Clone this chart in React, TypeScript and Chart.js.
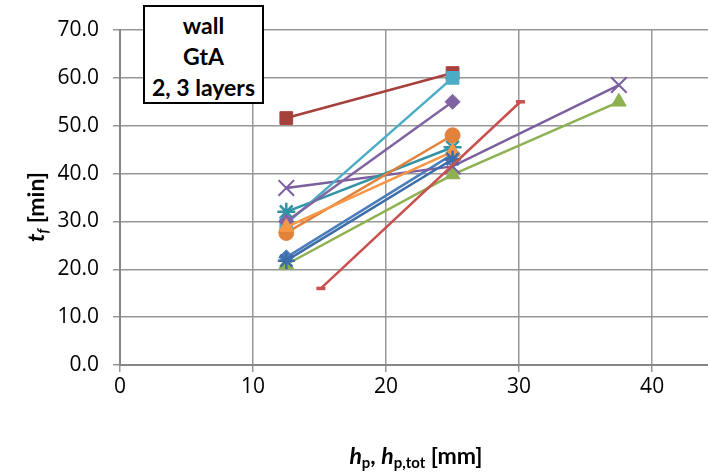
import React, { useEffect, useRef } from "react";
import { Chart, registerables } from "chart.js";

Chart.register(...registerables);

// ---- data ----
const xTickValues = [0, 10, 20, 30, 40];
const yTickValues = [0, 10, 20, 30, 40, 50, 60, 70];

const hpTwo = [12.5, 25];
const hpThree = [12.5, 25, 37.5];
const hpRed = [15.1, 30.1];

const tBlueDiamond = [22.5, 44.0];
const tDarkRedSquare = [51.6, 61.0];
const tGreenTriangle = [21.0, 39.8, 55.0];
const tPurpleCross = [37.0, 41.5, 58.5];
const tTealStar = [32.0, 45.5];
const tOrangeCircle = [27.6, 48.0];
const tAquaSquare = [29.5, 60.0];
const tPurpleDiamond = [30.0, 55.0];
const tOrangeTriangle = [28.8, 44.6];
const tBlueStar = [21.8, 43.0];
const tRedDash = [16.0, 55.0];

const boxLines = ["wall", "GtA", "2, 3 layers"];

const FONT = "Lato, 'Open Sans', sans-serif";
const TICK_FONT = "'Open Sans', Lato, sans-serif";

type S = { xs: number[]; ys: number[]; color: string; style: string; r: number; bw?: number };

const seriesList: S[] = [
  { xs: hpTwo, ys: tBlueDiamond, color: "#4A7EBB", style: "rectRot", r: 7.5 },
  { xs: hpTwo, ys: tDarkRedSquare, color: "#A5403D", style: "rect", r: 9 },
  { xs: hpThree, ys: tGreenTriangle, color: "#8DB150", style: "triangle", r: 8.5 },
  { xs: hpThree, ys: tPurpleCross, color: "#7A5E9E", style: "crossRot", r: 11, bw: 2 },
  { xs: hpTwo, ys: tTealStar, color: "#3393A6", style: "star", r: 9, bw: 2.5 },
  { xs: hpTwo, ys: tOrangeCircle, color: "#E2823A", style: "circle", r: 7.5 },
  { xs: hpTwo, ys: tAquaSquare, color: "#4BACC6", style: "rect", r: 9 },
  { xs: hpTwo, ys: tPurpleDiamond, color: "#8064A2", style: "rectRot", r: 7.5 },
  { xs: hpTwo, ys: tOrangeTriangle, color: "#F79646", style: "triangle", r: 8.5 },
  { xs: hpTwo, ys: tBlueStar, color: "#3C6DA8", style: "star", r: 8.5, bw: 2.5 },
  { xs: hpRed, ys: tRedDash, color: "#C8504D", style: "line", r: 4.5, bw: 3.5 },
];

export default function App() {
  const ref = useRef<HTMLCanvasElement | null>(null);

  useEffect(() => {
    if (!ref.current) return;
    const datasets = seriesList.map((s, i) => ({
      data: s.xs.map((x, k) => ({ x, y: s.ys[k] })),
      showLine: true,
      borderColor: s.color,
      backgroundColor: s.color,
      borderWidth: 2.5,
      pointStyle: s.style as any,
      pointRadius: s.r,
      pointBackgroundColor: s.color,
      pointBorderColor: s.color,
      pointBorderWidth: s.bw ?? 1,
      order: -i,
      clip: false as any,
    }));

    const chart = new Chart(ref.current, {
      type: "scatter",
      data: { datasets },
      options: {
        animation: false,
        responsive: false,
        devicePixelRatio: 1,
        layout: { autoPadding: false, padding: { top: 30, right: 0, left: 0, bottom: 0 } },
        plugins: { legend: { display: false }, tooltip: { enabled: false } },
        scales: {
          x: {
            type: "linear",
            min: 0,
            max: 44.2,
            afterBuildTicks: (scale: any) => {
              scale.ticks = xTickValues.map((v) => ({ value: v }));
            },
            afterFit: (scale: any) => {
              scale.height = 109;
              scale.paddingLeft = 0;
              scale.paddingRight = 0;
            },
            ticks: {
              color: "#000",
              font: { family: TICK_FONT, size: 21 },
              padding: 2,
              maxRotation: 0,
              callback: (v: any) => String(v),
            },
            grid: { color: "#979797", lineWidth: 1.5, tickLength: 7, drawTicks: true },
            border: { color: "#868686", width: 2 },
          },
          y: {
            type: "linear",
            min: 0,
            max: 70,
            afterBuildTicks: (scale: any) => {
              scale.ticks = yTickValues.map((v) => ({ value: v }));
            },
            afterFit: (scale: any) => {
              scale.width = 120;
            },
            ticks: {
              color: "#000",
              font: { family: TICK_FONT, size: 21 },
              padding: 14,
              callback: (v: any) => Number(v).toFixed(1),
            },
            grid: { color: "#979797", lineWidth: 1.5, tickLength: 7, drawTicks: true },
            border: { color: "#868686", width: 2 },
          },
        },
      },
    });
    return () => chart.destroy();
  }, []);

  return (
    <div
      style={{
        position: "absolute",
        left: 0,
        top: 0,
        width: 708,
        height: 474,
        background: "#fff",
        overflow: "hidden",
        fontFamily: FONT,
      }}
    >
      <canvas ref={ref} width={708} height={474} style={{ display: "block", width: 708, height: 474 }} />
      <div
        style={{
          position: "absolute",
          left: 143,
          top: 5,
          width: 121,
          height: 99,
          boxSizing: "border-box",
          border: "2px solid #000",
          background: "#fff",
          display: "flex",
          flexDirection: "column",
          justifyContent: "center",
          alignItems: "center",
          paddingTop: 4,
          fontWeight: 700,
          fontSize: 23,
          lineHeight: "31px",
          color: "#000",
        }}
      >
        {boxLines.map((t) => (
          <div key={t}>{t}</div>
        ))}
      </div>
      <div
        style={{
          position: "absolute",
          left: 37,
          top: 207,
          transform: "translate(-50%, -50%) rotate(-90deg)",
          whiteSpace: "nowrap",
          fontWeight: 700,
          fontSize: 23,
          lineHeight: 1,
          color: "#000",
        }}
      >
        <i>t</i>
        <sub style={{ fontSize: "0.62em", fontStyle: "italic", verticalAlign: "-0.25em" }}>f</sub>
        <span> [min]</span>
      </div>
      <div
        style={{
          position: "absolute",
          left: 416,
          top: 457,
          transform: "translate(-50%, -50%)",
          whiteSpace: "nowrap",
          fontWeight: 700,
          fontSize: 23,
          lineHeight: 1,
          color: "#000",
        }}
      >
        <i>h</i>
        <sub style={{ fontSize: "0.65em", verticalAlign: "-0.25em" }}>p</sub>
        <span>, </span>
        <i>h</i>
        <sub style={{ fontSize: "0.65em", verticalAlign: "-0.25em" }}>p,tot</sub>
        <span> [mm]</span>
      </div>
    </div>
  );
}
